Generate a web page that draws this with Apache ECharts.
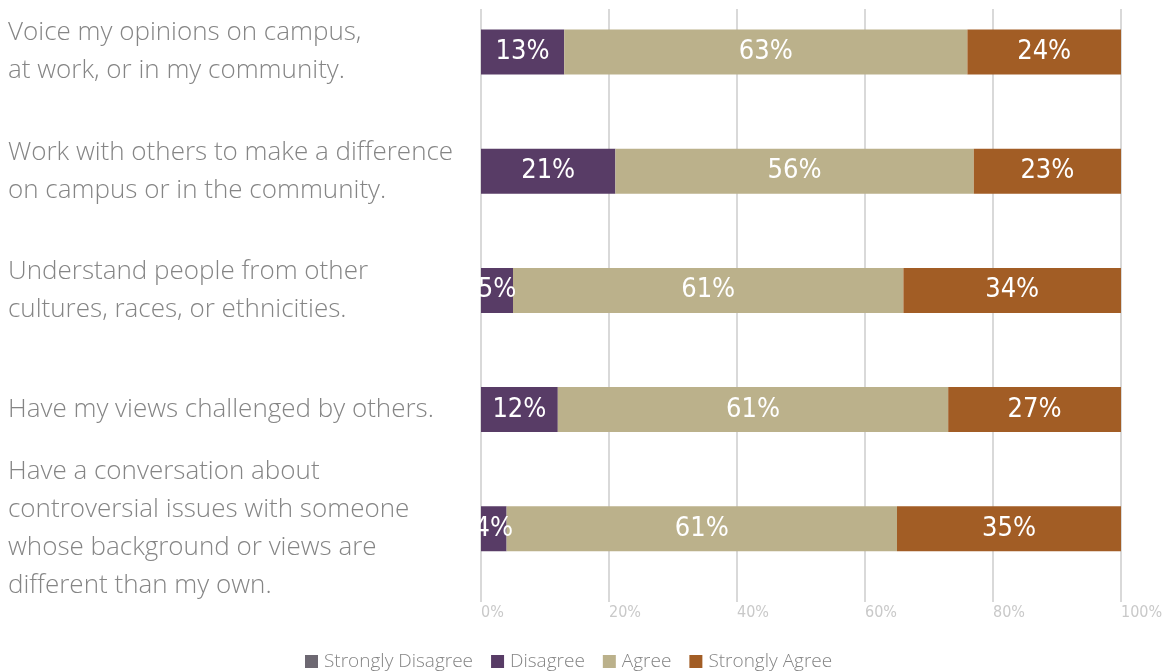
<!DOCTYPE html>
<html>
<head>
<meta charset="utf-8">
<script src="https://cdn.jsdelivr.net/npm/echarts@6/dist/echarts.min.js"></script>
<style>
  html, body { margin: 0; padding: 0; background: #fff; }
  #chart { width: 1162px; height: 671px; }
</style>
</head>
<body>
<div id="chart"></div>
<script>
// Survey statements (top to bottom)
const statements = [
  'Voice my opinions on campus,\nat work, or in my community.',
  'Work with others to make a difference\non campus or in the community.',
  'Understand people from other\ncultures, races, or ethnicities.',
  'Have my views challenged by others.',
  'Have a conversation about\ncontroversial issues with someone\nwhose background or views are\ndifferent than my own.'
];

// Response shares, percent (same order as statements)
const stronglyDisagree = [0, 0, 0, 0, 0];
const disagree = [13, 21, 5, 12, 4];
const agree = [63, 56, 61, 61, 61];
const stronglyAgree = [24, 23, 34, 27, 35];

const xTicks = [0, 20, 40, 60, 80, 100];

const colors = {
  'Strongly Disagree': '#6d6872',
  'Disagree': '#583c66',
  'Agree': '#bbb18b',
  'Strongly Agree': '#a25d25'
};

const labelFont = "'Liberation Sans Narrow', 'DejaVu Sans Condensed', 'Roboto', sans-serif";
const textFont = "'Open Sans', 'Roboto', 'Liberation Sans', sans-serif";

const chart = echarts.init(document.getElementById('chart'), null, { renderer: 'canvas' });

function barSeries(name, values) {
  return {
    name: name,
    type: 'bar',
    stack: 'total',
    xAxisIndex: 1,
    yAxisIndex: 1,
    barWidth: 45,
    data: values,
    itemStyle: { color: colors[name] },
    label: {
      show: true,
      position: 'inside',
      color: '#ffffff',
      fontFamily: labelFont,
      fontSize: 27,
      formatter: p => (p.value > 0 ? p.value + '%' : '')
    },
    emphasis: { disabled: true }
  };
}

chart.setOption({
  animation: false,
  backgroundColor: '#ffffff',
  legend: {
    left: 300,
    top: 647,
    itemWidth: 13,
    itemHeight: 13,
    itemGap: 18,
    icon: 'rect',
    textStyle: { color: '#858585', fontSize: 19, fontFamily: textFont, fontWeight: 300, padding: [0, 0, 0, 1] },
    data: ['Strongly Disagree', 'Disagree', 'Agree', 'Strongly Agree']
  },
  grid: [
    // gridlines and percentage ticks
    { left: 481, width: 640, top: 9, height: 593, outerBoundsMode: 'none', containLabel: false },
    // bars and statement labels
    { left: 481, width: 640, top: -7.6, height: 596, outerBoundsMode: 'none', containLabel: false }
  ],
  xAxis: [
    {
      gridIndex: 0,
      type: 'value',
      min: 0,
      max: 100,
      interval: 20,
      axisLine: { show: false },
      axisTick: { show: false },
      splitLine: { show: true, lineStyle: { color: '#d9d9d9', width: 2 } },
      axisLabel: {
        color: '#c9c9c9',
        fontFamily: labelFont,
        fontSize: 16,
        margin: 3,
        align: 'left',
        formatter: v => (xTicks.indexOf(v) >= 0 ? v + '%' : '')
      }
    },
    {
      gridIndex: 1,
      type: 'value',
      min: 0,
      max: 100,
      show: false
    }
  ],
  yAxis: [
    {
      gridIndex: 0,
      type: 'category',
      inverse: true,
      data: statements,
      show: false
    },
    {
      gridIndex: 1,
      type: 'category',
      inverse: true,
      data: statements,
      axisLine: { show: false },
      axisTick: { show: false },
      splitLine: { show: false },
      axisLabel: {
        align: 'left',
        margin: 473,
        color: '#858585',
        fontFamily: textFont,
        fontWeight: 300,
        fontSize: 26,
        lineHeight: 38
      }
    }
  ],
  series: [
    barSeries('Strongly Disagree', stronglyDisagree),
    barSeries('Disagree', disagree),
    barSeries('Agree', agree),
    barSeries('Strongly Agree', stronglyAgree)
  ]
});
</script>
</body>
</html>
